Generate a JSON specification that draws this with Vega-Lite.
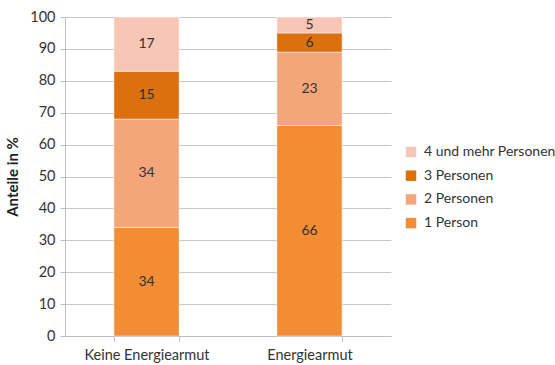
{
  "$schema": "https://vega.github.io/schema/vega-lite/v6.json",
  "width": 326,
  "height": 319,
  "autosize": {"type": "none"},
  "padding": {"left": 65, "top": 17, "right": 164, "bottom": 29},
  "background": "white",
  "config": {
    "font": "Lato",
    "view": {"stroke": null}
  },
  "data": {
    "values": [
      {"gruppe": "Keine Energiearmut", "haushalt": "1 Person", "ord": 1, "wert": 34},
      {"gruppe": "Keine Energiearmut", "haushalt": "2 Personen", "ord": 2, "wert": 34},
      {"gruppe": "Keine Energiearmut", "haushalt": "3 Personen", "ord": 3, "wert": 15},
      {"gruppe": "Keine Energiearmut", "haushalt": "4 und mehr Personen", "ord": 4, "wert": 17},
      {"gruppe": "Energiearmut", "haushalt": "1 Person", "ord": 1, "wert": 66},
      {"gruppe": "Energiearmut", "haushalt": "2 Personen", "ord": 2, "wert": 23},
      {"gruppe": "Energiearmut", "haushalt": "3 Personen", "ord": 3, "wert": 6},
      {"gruppe": "Energiearmut", "haushalt": "4 und mehr Personen", "ord": 4, "wert": 5}
    ]
  },
  "encoding": {
    "x": {
      "field": "gruppe",
      "type": "nominal",
      "sort": ["Keine Energiearmut", "Energiearmut"],
      "scale": {"paddingInner": 0.6, "paddingOuter": 0.3},
      "axis": {
        "title": null,
        "labelAngle": 0,
        "labelFontSize": 14.5,
        "labelColor": "#333333",
        "labelPadding": 7,
        "domainColor": "#bfbfbf",
        "tickColor": "#bfbfbf",
        "tickBand": "extent",
        "tickSize": 5,
        "grid": false
      }
    },
    "y": {
      "field": "wert",
      "type": "quantitative",
      "stack": "zero",
      "scale": {"domain": [0, 100], "nice": false},
      "axis": {
        "title": "Anteile in %",
        "titleFontSize": 15,
        "titleFontWeight": "bold",
        "titleColor": "#222222",
        "titlePadding": 9,
        "values": [0, 10, 20, 30, 40, 50, 60, 70, 80, 90, 100],
        "labelFontSize": 14.5,
        "labelColor": "#333333",
        "labelPadding": 5,
        "domainColor": "#bfbfbf",
        "tickColor": "#bfbfbf",
        "tickSize": 5,
        "gridColor": "#c8c8c8",
        "gridWidth": 1
      }
    },
    "order": {"field": "ord", "type": "quantitative", "sort": "ascending"}
  },
  "layer": [
    {
      "mark": {"type": "bar", "stroke": "white", "strokeWidth": 0.5},
      "encoding": {
        "color": {
          "field": "haushalt",
          "type": "nominal",
          "scale": {
            "domain": ["4 und mehr Personen", "3 Personen", "2 Personen", "1 Person"],
            "range": ["#F7C6B4", "#DC6F0E", "#F4A67A", "#F28C35"]
          },
          "legend": {
            "title": null,
            "orient": "none",
            "legendX": 339,
            "legendY": 128,
            "symbolType": "square",
            "symbolSize": 110,
            "symbolStrokeWidth": 0,
            "labelFontSize": 14,
            "labelColor": "#333333",
            "rowPadding": 9.7,
            "labelOffset": 6
          }
        }
      }
    },
    {
      "mark": {"type": "text", "fontSize": 14, "color": "#333333"},
      "encoding": {
        "y": {"field": "wert", "type": "quantitative", "stack": "zero", "bandPosition": 0.5},
        "text": {"field": "wert", "type": "quantitative"}
      }
    }
  ]
}
